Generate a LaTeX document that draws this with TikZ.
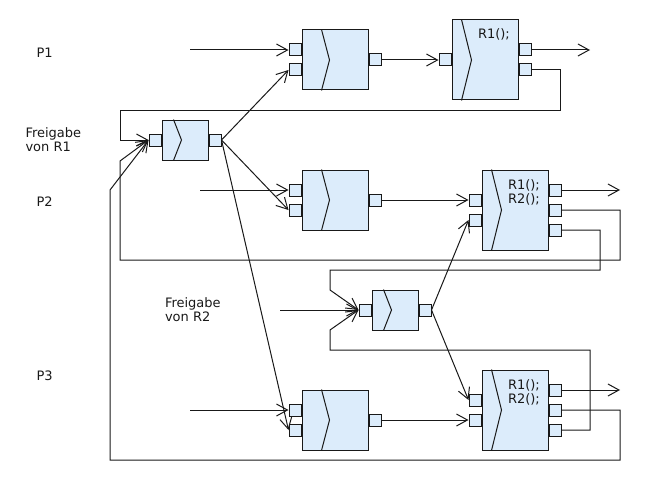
\documentclass[tikz,border=0pt]{standalone}
\usepackage{fontspec}
\setmainfont{DejaVu Sans}
\usetikzlibrary{arrows.meta}
\definecolor{blockfill}{RGB}{220,236,251}
\definecolor{ink}{RGB}{25,25,25}
\begin{document}
\begin{tikzpicture}[x=1pt,y=-1pt,line width=1pt,draw=ink,
  blockA/.style={draw,fill=blockfill,minimum width=66pt,minimum height=60pt,inner sep=0pt},
  blockB/.style={draw,fill=blockfill,minimum width=66pt,minimum height=80pt,inner sep=0pt},
  blockF/.style={draw,fill=blockfill,minimum width=46pt,minimum height=40pt,inner sep=0pt},
  port/.style={draw,fill=blockfill,minimum width=12pt,minimum height=12pt,inner sep=0pt},
  arr/.style={-{Straight Barb[length=11pt,width=12pt]}},
  lbl/.style={font=\fontsize{13}{14}\selectfont,inner sep=0pt,text=ink,align=left}]
\useasboundingbox (0,0) rectangle (660,500);

% ---------- blocks ----------
\node[blockA] (A1) at (335,60) {};
\node[blockA] (A2) at (335,200) {};
\node[blockA] (A3) at (335,420) {};
\node[blockB] (B1) at (485,60) {};
\node[blockB] (B2) at (515,210) {};
\node[blockB] (B3) at (515,410) {};
\node[blockF] (F1) at (185,140) {};
\node[blockF] (F2) at (395,310) {};

% chevrons inside the blocks
\foreach \b in {A1,A2,A3}
  \draw ([xshift=20pt]\b.north west) -- ([xshift=28pt]\b.west) -- ([xshift=20pt]\b.south west);
\foreach \b in {B1,B2,B3}
  \draw ([xshift=10pt]\b.north west) -- ([xshift=20pt]\b.west) -- ([xshift=10pt]\b.south west);
\foreach \b in {F1,F2}
  \draw ([xshift=12pt]\b.north west) -- ([xshift=20pt]\b.west) -- ([xshift=12pt]\b.south west);

% ---------- ports ----------
\foreach \b in {A1,A2,A3}{
  \node[port,anchor=east] (\b i1) at ([yshift=10pt]\b.west) {};
  \node[port,anchor=east] (\b i2) at ([yshift=-10pt]\b.west) {};
  \node[port,anchor=west] (\b o) at (\b.east) {};
}
\node[port,anchor=east] (B1i) at (B1.west) {};
\node[port,anchor=west] (B1o1) at ([yshift=10pt]B1.east) {};
\node[port,anchor=west] (B1o2) at ([yshift=-10pt]B1.east) {};
\foreach \b in {B2,B3}{
  \node[port,anchor=east] (\b i1) at ([yshift=10pt]\b.west) {};
  \node[port,anchor=east] (\b i2) at ([yshift=-10pt]\b.west) {};
  \node[port,anchor=west] (\b o1) at ([yshift=20pt]\b.east) {};
  \node[port,anchor=west] (\b o2) at (\b.east) {};
  \node[port,anchor=west] (\b o3) at ([yshift=-20pt]\b.east) {};
}
\foreach \b in {F1,F2}{
  \node[port,anchor=east] (\b i) at (\b.west) {};
  \node[port,anchor=west] (\b o) at (\b.east) {};
}

% ---------- texts ----------
\node[lbl,anchor=base west] (tP1) at (36,57.5) {P1};
\node[lbl,anchor=base west] (tP2) at (36,206.5) {P2};
\node[lbl,anchor=base west] (tP3) at (36,380) {P3};
\node[lbl,anchor=north west] (tF1) at (25,127) {Freigabe\\von R1};
\node[lbl,anchor=north west] (tF2) at (164.5,297) {Freigabe\\von R2};
\node[lbl,anchor=base west] (tB1) at (477.5,38.5) {R1();};
\node[lbl,anchor=north west] (tB2) at (507.5,179) {R1();\\R2();};
\node[lbl,anchor=north west] (tB3) at (507.5,379) {R1();\\R2();};

% ---------- free ends ----------
\coordinate (inP1) at (190,50);
\coordinate (inP2) at (200,190);
\coordinate (inP3) at (190,410);
\coordinate (inR2) at (280,310);
\coordinate (outB1) at (590,50);
\coordinate (outB2) at (620,190);
\coordinate (outB3) at (620,390);

% ---------- connectors ----------
\draw[arr] (inP1) -- (A1i1.west);
\draw[arr] (inP2) -- (A2i1.west);
\draw[arr] (inP3) -- (A3i1.west);
\draw[arr] (inR2) -- (F2i.west);

\draw[arr] (A1o.east) -- (B1i.west);
\draw[arr] (A2o.east) -- (B2i1.west);
\draw[arr] (A3o.east) -- (B3i2.west);

\draw[arr] (B1o1.east) -- (outB1);
\draw[arr] (B2o1.east) -- (outB2);
\draw[arr] (B3o1.east) -- (outB3);

% release of R1 fans out to the second inputs of the first stage
\draw[arr] (F1o.east) -- (A1i2.west);
\draw[arr] (F1o.east) -- (A2i2.west);
\draw[arr] (F1o.east) -- (A3i2.west);

% release of R2 fans out to the R1/R2 stages
\draw[arr] (F2o.east) -- (B2i2.west);
\draw[arr] (F2o.east) -- (B3i1.west);

% feedback loops back to the release of R1
\draw[arr] (B1o2.east) -| (560,110) -- (120,110) |- (F1i.west);
\draw[arr] (B2o2.east) -| (620,260) -- (120,260) -- (120,161) -- (F1i.west);
\draw[arr] (B3o2.east) -| (620,460) -- (110,460) -- (110,190) -- (F1i.west);

% feedback loops back to the release of R2
\draw[arr] (B2o3.east) -| (600,270) -- (330,270) -- (330,290) -- (F2i.west);
\draw[arr] (B3o3.east) -| (590,350) -- (330,350) -- (330,330) -- (F2i.west);
\end{tikzpicture}
\end{document}
